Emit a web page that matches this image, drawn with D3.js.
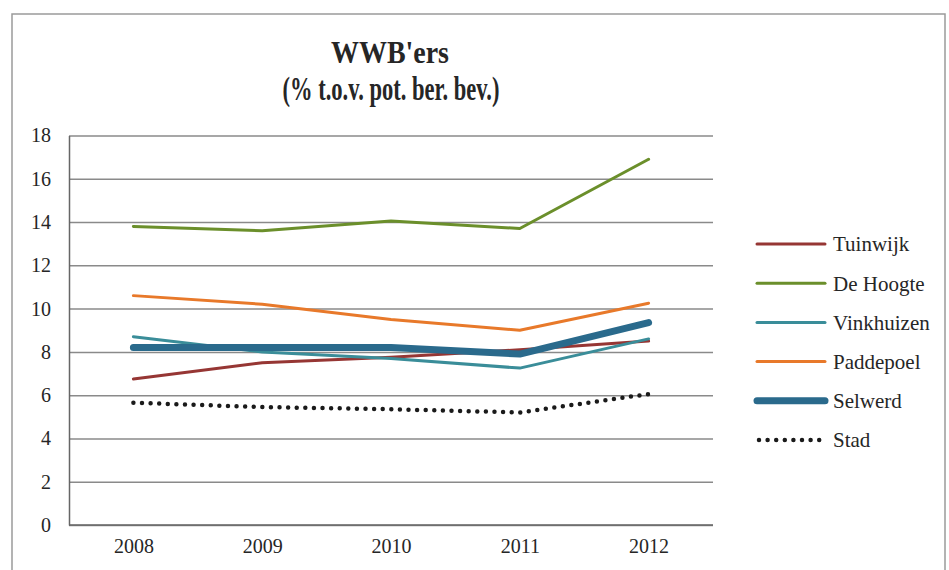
<!DOCTYPE html>
<html>
<head>
<meta charset="utf-8">
<script src="https://cdn.jsdelivr.net/npm/d3@7"></script>
<style>
  body { margin: 0; background: #fff; }
  svg text { font-family: "Liberation Serif", "DejaVu Serif", serif !important; fill: #262626; }
</style>
</head>
<body>
<script>
const years = ["2008", "2009", "2010", "2011", "2012"];
const yTicks = [0, 2, 4, 6, 8, 10, 12, 14, 16, 18];

const tuinwijk   = [6.75, 7.5, 7.75, 8.1, 8.5];
const deHoogte   = [13.8, 13.6, 14.05, 13.7, 16.9];
const vinkhuizen = [8.7, 8.0, 7.7, 7.25, 8.6];
const paddepoel  = [10.6, 10.2, 9.5, 9.0, 10.25];
const selwerd    = [8.2, 8.2, 8.2, 7.9, 9.35];
const stad       = [5.65, 5.45, 5.35, 5.2, 6.05];

const seriesNames = ["Tuinwijk", "De Hoogte", "Vinkhuizen", "Paddepoel", "Selwerd", "Stad"];
const seriesValues = [tuinwijk, deHoogte, vinkhuizen, paddepoel, selwerd, stad];
const seriesColors = ["#963634", "#6b8f2b", "#3a8d99", "#e8792a", "#2a6a8c", "#1a1a1a"];
const seriesWidths = [3, 3, 3, 3, 7, 4.5];

const width = 949, height = 570;
const plot = {left: 69, right: 713, top: 135.5, bottom: 525};

const svg = d3.select("body").append("svg")
  .attr("width", width)
  .attr("height", height);

// outer chart frame
svg.append("rect")
  .attr("x", 12).attr("y", 14)
  .attr("width", 933).attr("height", 600)
  .attr("fill", "none")
  .attr("stroke", "#9a9a9a")
  .attr("stroke-width", 1.5);

const x = d3.scalePoint()
  .domain(years)
  .range([plot.left, plot.right])
  .padding(0.5);

const y = d3.scaleLinear()
  .domain([0, 18])
  .range([plot.bottom, plot.top]);

// title (condensed look via textLength)
const title = svg.append("text")
  .attr("text-anchor", "middle")
  .style("font-weight", "bold");
title.append("tspan").attr("x", 390).attr("y", 63)
  .attr("font-size", 31)
  .attr("textLength", 118).attr("lengthAdjust", "spacingAndGlyphs")
  .text("WWB'ers");
title.append("tspan").attr("x", 391).attr("y", 100)
  .attr("font-size", 33)
  .attr("textLength", 217).attr("lengthAdjust", "spacingAndGlyphs")
  .text("(% t.o.v. pot. ber. bev.)");

// gridlines
svg.append("g")
  .attr("transform", "translate(" + plot.left + ",0)")
  .call(d3.axisLeft(y).tickValues(yTicks).tickSize(-(plot.right - plot.left)).tickFormat(""))
  .call(g => g.select(".domain").remove())
  .call(g => g.selectAll("line").attr("stroke", "#8a8a8a").attr("stroke-width", 1.5));

// y axis
svg.append("g")
  .attr("transform", "translate(" + plot.left + ",0)")
  .call(d3.axisLeft(y).tickValues(yTicks).tickSize(0).tickPadding(18))
  .call(g => g.select(".domain").attr("stroke", "#666").attr("stroke-width", 1.5))
  .call(g => g.selectAll("text").attr("font-size", 20));

// x axis
svg.append("g")
  .attr("transform", "translate(0," + plot.bottom + ")")
  .call(d3.axisBottom(x).tickSize(0).tickPadding(14))
  .call(g => g.select(".domain").attr("stroke", "#666").attr("stroke-width", 1.5).attr("d", "M" + plot.left + ",0H" + plot.right))
  .call(g => g.selectAll("text").attr("font-size", 20));

const line = d3.line()
  .x((d, i) => x(years[i]))
  .y(d => y(d));

seriesNames.forEach((name, i) => {
  const p = svg.append("path")
    .datum(seriesValues[i])
    .attr("d", line)
    .attr("fill", "none")
    .attr("stroke", seriesColors[i])
    .attr("stroke-width", seriesWidths[i])
    .attr("stroke-linejoin", "round")
    .attr("stroke-linecap", "round");
  if (name === "Stad") p.attr("stroke-dasharray", "0 8.6");
});

// legend
const legend = svg.append("g");
seriesNames.forEach((name, i) => {
  const ly = 244 + i * 39.2;
  const l = legend.append("line")
    .attr("x1", 757).attr("x2", 825)
    .attr("y1", ly).attr("y2", ly)
    .attr("stroke", seriesColors[i])
    .attr("stroke-width", seriesWidths[i])
    .attr("stroke-linecap", "round");
  if (name === "Stad") l.attr("stroke-dasharray", "0 8.6").attr("x1", 759);
  legend.append("text")
    .attr("x", 833).attr("y", ly)
    .attr("dy", "0.35em")
    .attr("font-size", 21)
    .text(name);
});
</script>
</body>
</html>
